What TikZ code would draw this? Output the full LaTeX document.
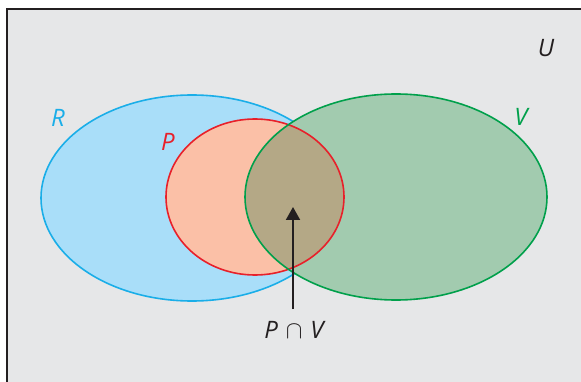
\documentclass[tikz,border=0pt]{standalone}
\usepackage{fontspec}
\setmainfont{Open Sans}
\usetikzlibrary{arrows.meta}
\definecolor{bgc}{HTML}{E6E7E8}
\definecolor{framec}{HTML}{231F20}
\definecolor{rfill}{HTML}{A9DEF9}
\definecolor{rline}{HTML}{1AAEE8}
\definecolor{pfill}{HTML}{FBC0A7}
\definecolor{pline}{HTML}{E8202A}
\definecolor{vfill}{HTML}{A2CBAF}
\definecolor{vline}{HTML}{00A04B}
\definecolor{pvfill}{HTML}{B4A886}
\tikzset{
  lbl/.style={font=\fontsize{24}{28}\selectfont\itshape, inner sep=0pt},
  setline/.style={line width=1.6pt},
}
\begin{document}
\begin{tikzpicture}[x=1pt,y=-1pt]
\useasboundingbox (0,0) rectangle (581,382);
\fill[bgc] (7,9) rectangle (581,382);
\draw[framec, line width=2.2pt] (7,382) -- (7,9) -- (581,9);
% R
\fill[rfill] (192,198) ellipse [x radius=151, y radius=103];
\draw[rline, setline] (192,198) ellipse [x radius=151, y radius=103];
% P
\fill[pfill] (255,197) ellipse [x radius=89, y radius=78];
% V
\fill[vfill] (396,197) ellipse [x radius=151, y radius=103];
% P cap V
\begin{scope}
  \clip (396,197) ellipse [x radius=151, y radius=103];
  \fill[pvfill] (255,197) ellipse [x radius=89, y radius=78];
\end{scope}
\draw[pline, setline] (255,197) ellipse [x radius=89, y radius=78];
\draw[vline, setline] (396,197) ellipse [x radius=151, y radius=103];
% labels
\node[lbl, text=rline] (lR) at (58,118) {R};
\node[lbl, text=pline] (lP) at (168,142) {P};
\node[lbl, text=vline] (lV) at (521,117) {V};
\node[lbl, text=framec] (lU) at (546,48) {U};
\node[lbl, text=framec] (lPV) at (294,330) {P\hspace{8pt}$\cap$\hspace{8pt}V};
\coordinate (abase) at (293,309);
\coordinate (atip) at (293,207);
\draw[framec, line width=2pt, -{Triangle[length=13pt,width=14pt]}] (abase) -- (atip);
\end{tikzpicture}
\end{document}
